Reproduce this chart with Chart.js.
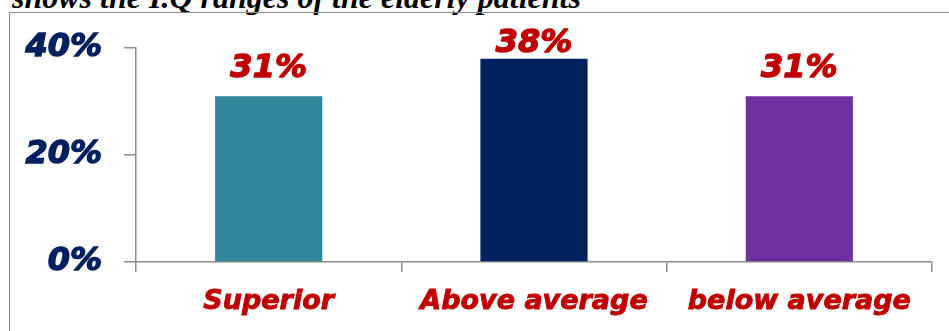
<!DOCTYPE html>
<html>
<head>
<meta charset="utf-8">
<script src="https://cdn.jsdelivr.net/npm/chart.js@4.4.0/dist/chart.umd.min.js"></script>
<style>
  html, body { margin: 0; padding: 0; background: #fff; overflow: hidden; }
  #wrap { position: relative; width: 949px; height: 331px; }
  #caption {
    position: absolute; left: 12px; top: -19px; white-space: nowrap;
    font: italic bold 32px "Liberation Serif", serif; line-height: 32px; color: #000;
  }
  #box {
    position: absolute; left: 9px; top: 12px; width: 960px; height: 400px;
    border-left: 1.5px solid #8c8c8c; border-top: 1.5px solid #8c8c8c;
  }
  #chart { position: absolute; left: 0; top: 0; }
</style>
</head>
<body>
<div id="wrap">
  <div id="caption">shows the I.Q ranges of the elderly patients</div>
  <div id="box"></div>
  <canvas id="chart" width="949" height="331"></canvas>
</div>
<script>
// I.Q ranges of the elderly patients (percent)
const categories = ["Superior", "Above average", "below average"];
const percents = [31, 38, 31];
const barColors = ["#31859C", "#002060", "#7030A0"];
const yTicks = [0, 20, 40];

const axisGray = "#8c8c8c";

// value labels above bars, stroked a bit to look heavier
const valueLabels = {
  id: "valueLabels",
  afterDatasetsDraw(chart, args, opts) {
    const ctx = chart.ctx;
    const meta = chart.getDatasetMeta(0);
    ctx.save();
    ctx.font = "italic bold 32px 'DejaVu Sans'";
    ctx.fillStyle = "#C00000";
    ctx.strokeStyle = "#C00000";
    ctx.lineWidth = 1.4;
    ctx.lineJoin = "round";
    ctx.textAlign = "center";
    ctx.textBaseline = "alphabetic";
    meta.data.forEach((bar, i) => {
      const txt = percents[i] + "%";
      const y = bar.y - opts.gaps[i];
      ctx.fillText(txt, bar.x, y);
      ctx.strokeText(txt, bar.x, y);
    });
    ctx.restore();
  }
};

new Chart(document.getElementById("chart"), {
  type: "bar",
  data: {
    labels: categories,
    datasets: [{
      data: percents,
      backgroundColor: barColors,
      barPercentage: 1,
      categoryPercentage: 0.404
    }]
  },
  options: {
    responsive: false,
    animation: false,
    layout: { padding: { left: 0, top: 48, right: 17, bottom: 0 } },
    plugins: {
      legend: { display: false },
      tooltip: { enabled: false },
      valueLabels: { gaps: [19, 7, 19] }
    },
    scales: {
      x: {
        offset: true,
        border: { color: axisGray, width: 1.5 },
        grid: {
          offset: true, drawOnChartArea: false, drawTicks: true,
          tickLength: 10, color: axisGray, lineWidth: 1.5
        },
        ticks: {
          color: "#C00000", padding: 14,
          textStrokeColor: "#C00000", textStrokeWidth: 0.9,
          font: { family: "DejaVu Sans", size: 27, weight: "bold", style: "italic" }
        },
        afterFit(scale) { scale.height = 69; }
      },
      y: {
        min: 0, max: 40,
        afterBuildTicks(scale) { scale.ticks = yTicks.map(v => ({ value: v })); },
        border: { color: axisGray, width: 1.5 },
        grid: {
          drawOnChartArea: false, drawTicks: true,
          tickLength: 12, color: axisGray, lineWidth: 1.5
        },
        ticks: {
          color: "#002060", padding: 22,
          textStrokeColor: "#002060", textStrokeWidth: 1.4,
          font: { family: "DejaVu Sans", size: 32, weight: "bold", style: "italic" },
          callback: v => v + "%"
        },
        afterFit(scale) { scale.width = 136; }
      }
    }
  },
  plugins: [valueLabels]
});
</script>
</body>
</html>
